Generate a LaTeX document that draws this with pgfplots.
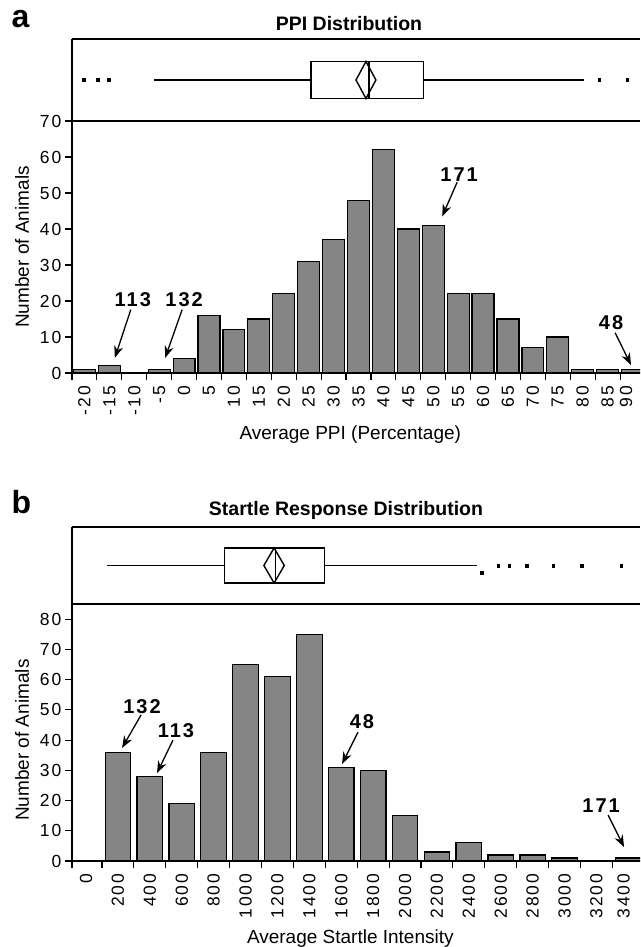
\documentclass[border=0pt]{standalone}
\usepackage{fontspec}
\setmainfont{Liberation Sans}
\usepackage{pgfplots}
\pgfplotsset{compat=1.18}
\usetikzlibrary{arrows.meta}
\newfontfamily\tickfont[LetterSpace=12]{Liberation Sans}
\newfontfamily\annfont[LetterSpace=10]{Liberation Sans}
\definecolor{barfill}{HTML}{858585}

\pgfplotsset{
  histo/.style={
    scale only axis, width=568pt,
    axis x line*=bottom, axis y line*=left,
    ybar,
    axis line style={line width=1.3pt},
    major tick length=0pt, minor tick length=7pt,
    tick align=outside,
    every tick/.style={black, line width=1.1pt},
    /pgf/number format/assume math mode=true,
    yticklabel style={font=\fontsize{17.5}{19}\tickfont},
    xticklabel style={font=\fontsize{17.5}{19}\tickfont, rotate=90, anchor=east},
    xticklabel shift=9pt, yticklabel shift=7pt,
    label style={font=\fontsize{19}{22}\selectfont},
  },
  boxax/.style={
    scale only axis, width=568pt,
    axis x line*=box, axis y line*=left,
    xtick=\empty, ytick=\empty, ymin=-1, ymax=1,
    axis line style={line width=1.3pt},
  },
}
\tikzset{
  ann/.style={font=\fontsize{20}{22}\annfont\bfseries},
  arr/.style={-{Stealth[length=12pt,width=9pt]}, line width=1.3pt},
}

\begin{document}
\begin{tikzpicture}
% ---------------- Panel a: histogram ----------------
\begin{axis}[histo, at={(72pt,-373pt)}, anchor=south west, height=252pt,
  xmin=-22.5, xmax=91.5, ymin=0, ymax=70, bar width=4.4,
  ytick={0,10,...,70}, minor ytick={0,10,...,70},
  xtick={-20,-15,-10,-5,0,5,10,15,20,25,30,35,40,45,50,55,60,65,70,75,80,85,88.7},
  xticklabels={-20,-15,-10,-5,0,5,10,15,20,25,30,35,40,45,50,55,60,65,70,75,80,85,90},
  minor xtick={-22.5,-17.5,...,87.5},
  ylabel={Number of Animals},
  ylabel style={at={(axis description cs:-0.088,0.5)}, anchor=center},
  xlabel={Average PPI (Percentage)},
  xlabel style={at={(axis description cs:0.49,0)}, anchor=center, yshift=-62pt},
]
\addplot[fill=barfill, draw=black, line width=1.2pt] coordinates {
(-20,1)(-15,2)(-10,0)(-5,1)(0,4)(5,16)(10,12)(15,15)(20,22)(25,31)(30,37)(35,48)
(40,62)(45,40)(50,41)(55,22)(60,22)(65,15)(70,7)(75,10)(80,1)(85,1)(90,1)};
\node[ann] at (axis cs:-10.3,20.4) {113};
\draw[arr] (axis cs:-10.7,17.6) -- (axis cs:-13.9,4.2);
\node[ann] at (axis cs:0.0,20.4) {132};
\draw[arr] (axis cs:-0.4,17.6) -- (axis cs:-3.8,4.2);
\node[ann] at (axis cs:55.2,55.2) {171};
\draw[arr] (axis cs:54.8,53.0) -- (axis cs:51.8,43.5);
\node[ann] at (axis cs:85.7,13.9) {48};
\draw[arr] (axis cs:86.5,11.2) -- (axis cs:89.7,2.2);
\end{axis}

% ---------------- Panel a: box plot ----------------
\begin{axis}[boxax, at={(72pt,-121pt)}, anchor=south west, height=82pt,
  xmin=-22.5, xmax=91.5]
\addplot[black, line width=1.1pt] coordinates {(-6,0)(25.5,0)};
\addplot[black, line width=1.1pt] coordinates {(48,0)(80.3,0)};
\addplot[black, line width=1.4pt] coordinates {(25.5,-0.45)(48,-0.45)(48,0.45)(25.5,0.45)} --cycle;
\addplot[black, line width=1.4pt] coordinates {(37.1,-0.45)(37.1,0.45)};
\addplot[black, line width=1.4pt] coordinates {(34.5,0)(36.5,0.45)(38.5,0)(36.5,-0.45)} --cycle;
\addplot[only marks, mark=square*, mark size=1.3pt, black] coordinates {(-20.1,0)(-17.3,0)(-15.1,0)(83.3,0)(88.9,0)};
\end{axis}

% ---------------- Panel b: histogram ----------------
\begin{axis}[histo, at={(72pt,-861pt)}, anchor=south west, height=257pt,
  xmin=-88, xmax=3473, ymin=0, ymax=85, bar width=160,
  ytick={0,10,...,80}, minor ytick={0,10,...,80},
  xtick={0,200,400,600,800,1000,1200,1400,1600,1800,2000,2200,2400,2600,2800,3000,3200,3370},
  xticklabels={0,200,400,600,800,1000,1200,1400,1600,1800,2000,2200,2400,2600,2800,3000,3200,3400},
  minor xtick={-88,100,300,500,700,900,1100,1300,1500,1700,1900,2100,2300,2500,2700,2900,3100,3300},
  ylabel={Number of Animals},
  ylabel style={at={(axis description cs:-0.088,0.47)}, anchor=center},
  xlabel={Average Startle Intensity},
  xlabel style={at={(axis description cs:0.49,0)}, anchor=center, yshift=-78pt},
]
\addplot[fill=barfill, draw=black, line width=1.2pt] coordinates {
(0,0)(200,36)(400,28)(600,19)(800,36)(1000,65)(1200,61)(1400,75)(1600,31)(1800,30)
(2000,15)(2200,3)(2400,6)(2600,2)(2800,2)(3000,1)(3200,0)(3400,1)};
\node[ann] at (axis cs:351,50.9) {132};
\draw[arr] (axis cs:345,48.3) -- (axis cs:226,37.4);
\node[ann] at (axis cs:564,43.0) {113};
\draw[arr] (axis cs:545,40.0) -- (axis cs:445,29.1);
\node[ann] at (axis cs:1730,46.0) {48};
\draw[arr] (axis cs:1705,42.6) -- (axis cs:1605,32.1);
\node[ann] at (axis cs:3229,18.2) {171};
\draw[arr] (axis cs:3273,15.2) -- (axis cs:3373,4.6);
\end{axis}

% ---------------- Panel b: box plot ----------------
\begin{axis}[boxax, at={(72pt,-604pt)}, anchor=south west, height=77pt,
  xmin=-88, xmax=3473]
\addplot[black, line width=1.1pt] coordinates {(132,0)(868,0)};
\addplot[black, line width=1.1pt] coordinates {(1495,0)(2452,0)};
\addplot[black, line width=1.4pt] coordinates {(868,-0.455)(1495,-0.455)(1495,0.455)(868,0.455)} --cycle;
\addplot[black, line width=1.4pt] coordinates {(1188,-0.455)(1188,0.455)};
\addplot[black, line width=1.4pt] coordinates {(1115,0)(1179,0.455)(1243,0)(1179,-0.455)} --cycle;
\addplot[only marks, mark=square*, mark size=1.3pt, black] coordinates {(2480,-0.19)(2583,0)(2652,0)(2762,0)(2928,0)(3107,0)(3354,0)};
\end{axis}

% ---------------- letters and titles ----------------
\node[anchor=base west, font=\fontsize{32}{34}\selectfont\bfseries] at (8pt,-28pt) {a};
\node[anchor=base, font=\fontsize{19.5}{22}\selectfont\bfseries] at (349pt,-31pt) {PPI Distribution};
\node[anchor=base west, font=\fontsize{32}{34}\selectfont\bfseries] at (8pt,-513pt) {b};
\node[anchor=base, font=\fontsize{19.5}{22}\selectfont\bfseries] at (346pt,-515pt) {Startle Response Distribution};

\pgfresetboundingbox
\path[use as bounding box] (0pt,0pt) rectangle (640pt,-947pt);
\end{tikzpicture}
\end{document}
